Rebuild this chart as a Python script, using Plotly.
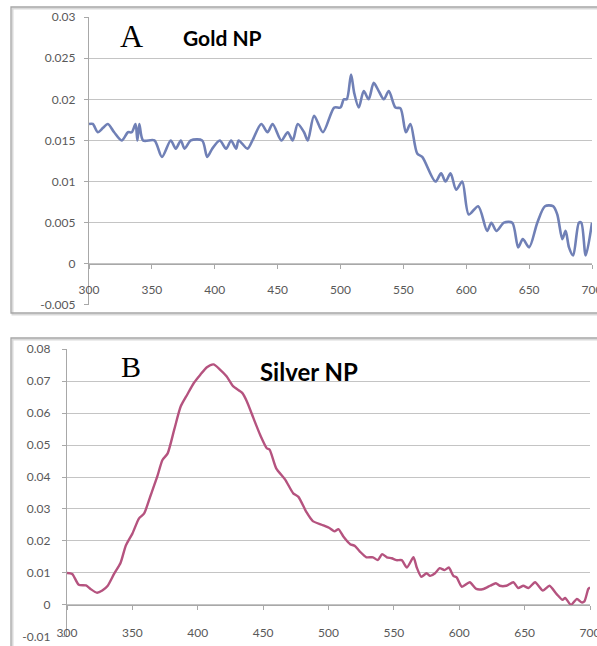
import plotly.graph_objects as go

# ---------------- data ----------------
gold_nm = [300, 303, 307, 311, 315, 320, 326, 331, 334, 337, 338.5, 340, 343, 352, 358, 365, 369,
           373, 376, 381, 390, 394, 398, 404, 409, 413, 417, 419, 426, 430, 437, 442, 446,
           453, 458, 462, 466, 471, 474, 479, 486, 495, 500, 502.6, 505, 508.4, 511, 514.5,
           518.5, 522.4, 526.4, 530.4, 534.4, 538.4, 543.7, 547.7, 552, 555.6, 561, 565,
           575.5, 580, 583.5, 587.5, 592, 596.8, 602, 609.5, 616.6, 620, 624, 630, 636.6,
           641.3, 645, 650, 656.5, 662.6, 669, 672.4, 676.4, 679, 681.7, 685, 689.6, 691.5,
           695, 700]
gold_abs = [0.017, 0.017, 0.016, 0.0165, 0.017, 0.016, 0.015, 0.016, 0.016, 0.017, 0.015, 0.017,
            0.015, 0.015, 0.013, 0.015, 0.014, 0.015, 0.014, 0.015, 0.015, 0.013, 0.014, 0.015,
            0.014, 0.015, 0.014, 0.015, 0.014, 0.015, 0.017, 0.016, 0.017, 0.015, 0.016, 0.015,
            0.017, 0.016, 0.015, 0.018, 0.016, 0.019, 0.019, 0.020, 0.020, 0.023, 0.0207, 0.019,
            0.021, 0.020, 0.022, 0.021, 0.020, 0.021, 0.019, 0.0189, 0.016, 0.017, 0.0134, 0.013,
            0.010, 0.011, 0.010, 0.011, 0.009, 0.010, 0.006, 0.007, 0.004, 0.005, 0.004, 0.005,
            0.005, 0.002, 0.003, 0.002, 0.005, 0.007, 0.007, 0.006, 0.003, 0.004, 0.002, 0.001,
            0.005, 0.005, 0.001, 0.005]

silver_nm = [300, 304, 309, 314.5, 318, 323, 327, 331, 336, 341, 345, 350, 355, 359, 364, 369,
             373, 377, 382, 387, 392, 397, 402, 407, 412, 417, 422, 427, 434, 437.5, 442.6,
             447.7, 452.8, 455, 460, 467, 473, 477, 483, 488, 496, 501, 504.6, 507.6, 511.5,
             516.6, 520, 524, 529, 534, 537.7, 541, 544.6, 548.4, 552, 556, 560, 565, 567.5,
             571, 575, 577.7, 581.5, 585, 588.7, 592, 595.5, 598, 602, 608, 613, 618.5, 623.6,
             628, 631, 636, 641.4, 645, 649, 653, 658, 664, 669, 674.5, 679, 681, 685.5, 690,
             693.6, 695.7, 698.7, 700]
silver_abs = [0.0100, 0.0097, 0.0063, 0.0061, 0.0050, 0.0038, 0.0045, 0.0059, 0.0097, 0.0132,
              0.0186, 0.0223, 0.0270, 0.0286, 0.0343, 0.0401, 0.0453, 0.0474, 0.0548, 0.0621,
              0.0658, 0.0694, 0.0720, 0.0743, 0.0752, 0.0736, 0.0715, 0.0684, 0.0663, 0.0637,
              0.0584, 0.0532, 0.0490, 0.0485, 0.0427, 0.0391, 0.0349, 0.0338, 0.0291, 0.0262,
              0.0249, 0.0240, 0.0230, 0.0237, 0.0213, 0.0190, 0.0185, 0.0167, 0.0149, 0.0149,
              0.0140, 0.0159, 0.0149, 0.0146, 0.0140, 0.0140, 0.0117, 0.0149, 0.0117, 0.0088,
              0.0099, 0.0091, 0.0099, 0.0115, 0.0109, 0.0117, 0.0091, 0.0086, 0.0057, 0.0071,
              0.0050, 0.0050, 0.0060, 0.0068, 0.0060, 0.0060, 0.0071, 0.0053, 0.0060, 0.0053,
              0.0071, 0.0045, 0.0060, 0.0034, 0.0016, 0.0022, 0.0000, 0.0019, 0.0008, 0.0011,
              0.0050, 0.0055]

x_ticks = [300, 350, 400, 450, 500, 550, 600, 650, 700]
x_labels = ["300", "350", "400", "450", "500", "550", "600", "650", "700"]
gold_yticks = [-0.005, 0, 0.005, 0.01, 0.015, 0.02, 0.025, 0.03]
gold_ylabels = ["-0.005", "0", "0.005", "0.01", "0.015", "0.02", "0.025", "0.03"]
silver_yticks = [-0.01, 0, 0.01, 0.02, 0.03, 0.04, 0.05, 0.06, 0.07, 0.08]
silver_ylabels = ["-0.01", "0", "0.01", "0.02", "0.03", "0.04", "0.05", "0.06", "0.07", "0.08"]

# ---------------- figure ----------------
W, H = 597, 646
def px_x(p):
    return p / W
def px_y(p):
    return 1 - p / H

fig = go.Figure()
fig.add_trace(go.Scatter(x=gold_nm, y=gold_abs, mode="lines",
                         line=dict(color="#7080b6", width=2.6, shape="spline", smoothing=0.8),
                         xaxis="x", yaxis="y", showlegend=False, hoverinfo="skip",
                         cliponaxis=False))
fig.add_trace(go.Scatter(x=silver_nm, y=silver_abs, mode="lines",
                         line=dict(color="#b5537f", width=2.4, shape="spline", smoothing=0.6),
                         xaxis="x2", yaxis="y2", showlegend=False, hoverinfo="skip",
                         cliponaxis=False))

tickfont = dict(family="Lato, Liberation Sans, sans-serif", size=12, color="#595959")
grid = "#c4c4c4"
axline = "#a8a8a8"

common_x = dict(range=[300, 700], tickmode="array", tickvals=x_ticks, ticktext=x_labels,
                showgrid=False, zeroline=False, showline=True, linecolor=axline, linewidth=1.2,
                ticks="outside", ticklen=4, tickcolor=axline, tickfont=tickfont,
                automargin=False, ticklabeloverflow="allow")
common_y = dict(tickmode="array", showgrid=True, gridcolor=grid, gridwidth=1.4,
                zeroline=False, showline=True, linecolor=axline, linewidth=1.2,
                ticks="outside", ticklen=4, tickcolor=axline, tickfont=tickfont,
                automargin=False)

fig.update_layout(
    width=W, height=H, margin=dict(l=0, r=0, t=0, b=0, autoexpand=False),
    paper_bgcolor="white", plot_bgcolor="white",
    xaxis=dict(common_x, domain=[px_x(89), px_x(592)], anchor="free",
               position=px_y(264), ticklabelstandoff=10),
    yaxis=dict(common_y, domain=[px_y(305), px_y(17)], anchor="x",
               range=[-0.00501, 0.03001], tickvals=gold_yticks, ticktext=gold_ylabels,
               ticklabelstandoff=6),
    xaxis2=dict(common_x, domain=[px_x(67), px_x(590)], anchor="free",
                position=px_y(605), ticklabelstandoff=12),
    yaxis2=dict(common_y, domain=[px_y(637), px_y(349)], anchor="x2",
                range=[-0.01002, 0.08002], tickvals=silver_yticks, ticktext=silver_ylabels,
                ticklabelstandoff=9),
)

# panel frames
for (x0, y0, x1, y1) in [(11, 7, 610, 313), (11, 338, 610, 660)]:
    fig.add_shape(type="rect", xref="paper", yref="paper",
                  x0=px_x(x0 + 1.5), y0=px_y(y1 + 1.5), x1=px_x(x1 + 1.5), y1=px_y(y0 + 1.5),
                  line=dict(color="#d9d9d9", width=2), layer="below")
    fig.add_shape(type="rect", xref="paper", yref="paper",
                  x0=px_x(x0), y0=px_y(y1), x1=px_x(x1), y1=px_y(y0),
                  line=dict(color="#a6a6a6", width=1.3), layer="below")

serif = "Liberation Serif, Times New Roman, serif"
sans_b = "Lato, Liberation Sans, sans-serif"
ann = dict(xref="paper", yref="paper", showarrow=False, xanchor="center", yanchor="middle")
fig.add_annotation(text="A", x=px_x(131), y=px_y(36), **ann,
                   font=dict(family=serif, size=32, color="black"))
fig.add_annotation(text="<b>Gold NP</b>", x=px_x(222), y=px_y(37), **ann,
                   font=dict(family=sans_b, size=21, color="black"))
fig.add_annotation(text="B", x=px_x(131), y=px_y(366), **ann,
                   font=dict(family=serif, size=30, color="black"))
fig.add_annotation(text="<b>Silver NP</b>", x=px_x(309), y=px_y(371), **ann,
                   font=dict(family=sans_b, size=24, color="black"))

fig.write_html("out.html", config={"displayModeBar": False},
               post_script="document.body.style.margin='0';"
                           "document.body.style.overflow='hidden';"
                           "document.documentElement.style.overflow='hidden';")
